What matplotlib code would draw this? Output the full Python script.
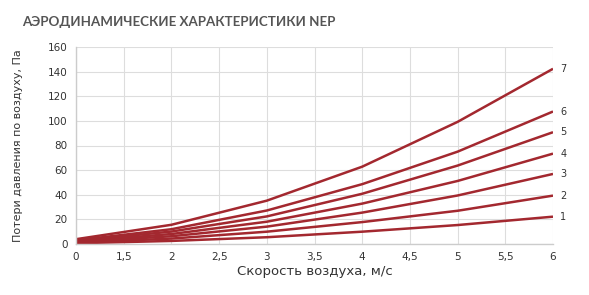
import matplotlib.pyplot as plt
import numpy as np

x_labels = ['0', '1,5', '2', '2,5', '3', '3,5', '4', '4,5', '5', '5,5', '6']
# positions on the category axis where the curves have points
pt_idx = [0, 2, 4, 6, 8, 10]
curves = {
    '1': [0.6, 2.5, 5.5, 10.0, 15.4, 22.2],
    '2': [1.1, 4.4, 10.0, 17.8, 27.0, 39.3],
    '3': [1.6, 6.3, 14.1, 25.5, 39.4, 56.9],
    '4': [2.0, 8.1, 18.1, 32.8, 51.2, 73.4],
    '5': [2.5, 10.1, 22.4, 40.8, 63.7, 90.8],
    '6': [3.0, 12.0, 27.2, 48.6, 75.0, 107.6],
    '7': [3.9, 15.6, 35.2, 62.8, 99.2, 142.3],
}

red = '#a3282f'
plt.rcParams['font.family'] = ['DejaVu Sans']

fig = plt.figure(figsize=(5.89, 2.95), dpi=100)
ax = fig.add_axes([76 / 589, 1 - 244 / 295, 477 / 589, 197 / 295])

for name, vals in curves.items():
    ax.plot(pt_idx, vals, color=red, lw=1.8, solid_capstyle='butt')
    ax.text(pt_idx[-1] + 0.15, vals[-1], name, fontsize=7, color='#333333',
            va='center', ha='left')

ax.set_xlim(0, 10)
ax.set_ylim(0, 160)
ax.set_xticks(range(len(x_labels)))
ax.set_xticklabels(x_labels)
ax.set_yticks(np.arange(0, 161, 20))
ax.grid(True, color='#dddddd', lw=0.8)
ax.set_axisbelow(True)
ax.tick_params(length=0, labelsize=7.5, colors='#333333', pad=6)
for s in ['top', 'right']:
    ax.spines[s].set_visible(False)
for s in ['left', 'bottom']:
    ax.spines[s].set_color('#cccccc')
    ax.spines[s].set_linewidth(1)

ax.set_xlabel('Скорость воздуха, м/с', fontsize=9.5, color='#333333', labelpad=2)
ax.set_ylabel('Потери давления по воздуху, Па', fontsize=8, color='#333333', labelpad=18)

fig.text(22 / 589, 1 - 22 / 295, 'АЭРОДИНАМИЧЕСКИЕ ХАРАКТЕРИСТИКИ NEP',
         fontsize=9.6, fontweight='bold', color='#555555', va='center', ha='left',
         family='Lato')

fig.savefig('out.png', dpi=100, facecolor='white')
